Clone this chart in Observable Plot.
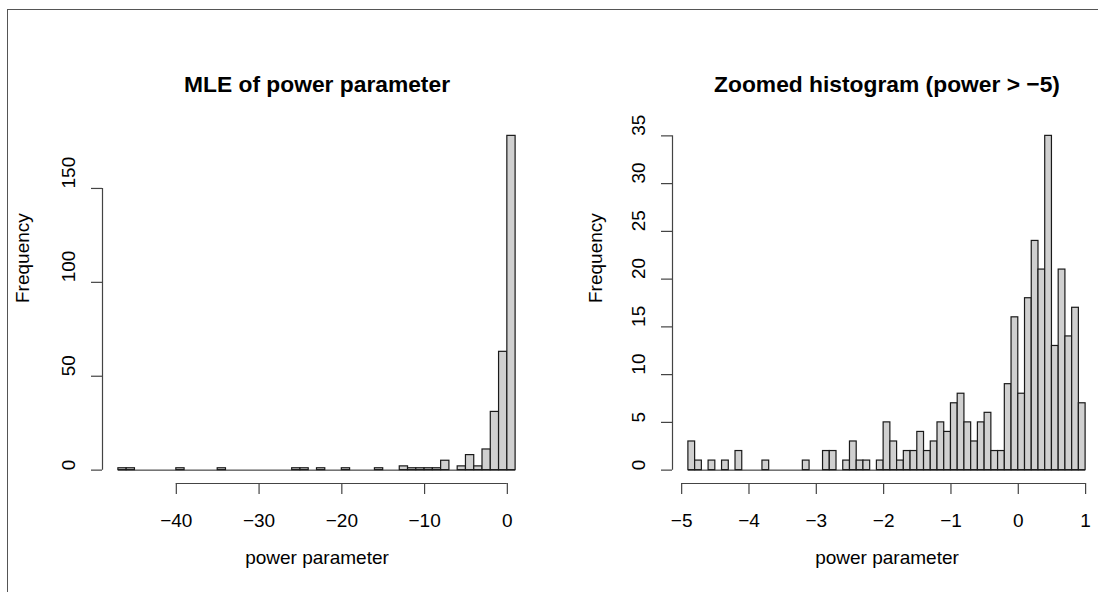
<!DOCTYPE html>
<html><head><meta charset="utf-8">
<script src="https://cdn.jsdelivr.net/npm/d3@7"></script>
<script src="https://cdn.jsdelivr.net/npm/@observablehq/plot@0.6"></script>
<style>
html,body{margin:0;padding:0;background:#fff;overflow:hidden;}
#wrap{position:relative;width:1098px;height:592px;overflow:hidden;background:#fff;}
#frame{position:absolute;left:7px;top:9px;width:2000px;height:2000px;border-left:1.5px solid #555;border-top:1.5px solid #555;pointer-events:none;}
.panel{position:absolute;top:0;width:570px;height:592px;}
.panel svg{max-width:none !important;display:block;}
</style></head><body>
<div id="wrap"><div id="p1" class="panel" style="left:0px"></div><div id="p2" class="panel" style="left:570px"></div><div id="frame"></div></div>
<script>
// Left histogram: bins of width 1 starting at -47
const leftStart = -47;
const leftBinWidth = 1;
const leftCounts = [1,1,0,0,0,0,0,1,0,0, 0,0,1,0,0,0,0,0,0,0, 0,1,1,0,1,0,0,1,0,0, 0,1,0,0,2,1,1,1,1,5, 0,2,8,2,11,31,63,178];
const leftXTicks = [-40,-30,-20,-10,0];
const leftYTicks = [0,50,100,150];

// Right histogram: bins of width 0.1 starting at -4.9
const rightStart = -4.9;
const rightBinWidth = 0.1;
const rightCounts = [3,1,0,1,0,1,0,2,0,0, 0,1,0,0,0,0,0,1,0,0, 2,2,0,1,3,1,1,0,1,5, 3,1,2,2,4,2,3,5,4,7, 8,5,3,5,6,2,2,9,16,8, 18,24,21,35,13,21,14,17,7];
const rightXTicks = [-5,-4,-3,-2,-1,0,1];
const rightYTicks = [0,5,10,15,20,25,30,35];

const titles = ["MLE of power parameter", "Zoomed histogram (power > \u22125)"];
const xLabel = "power parameter";
const yLabel = "Frequency";

function panel(counts, start, bw, xTicks, yTicks, title, yLabDx) {
  const bins = counts.map((c, i) => ({x1: start + i * bw, x2: start + (i + 1) * bw, c}));
  const xmin = start, xmax = start + counts.length * bw;
  const xpad = 0.04 * (xmax - xmin);
  const ymax = d3.max(counts);
  const ypad = 0.04 * ymax;
  const fmt = d => (d < 0 ? "\u2212" + Math.abs(d) : String(d));
  return Plot.plot({
    width: 570, height: 592,
    marginLeft: 102, marginRight: 39, marginTop: 122, marginBottom: 109,
    x: {domain: [xmin - xpad, xmax + xpad]},
    y: {domain: [-ypad, ymax + ypad]},
    style: {fontFamily: "'Liberation Sans', Arial, Helvetica, sans-serif", fontSize: "19px", background: "transparent", color: "#000", maxWidth: "none"},
    marks: [
      Plot.ruleY([0], {x1: xmin, x2: xmax, stroke: "#222", strokeWidth: 1}),
      Plot.rectY(bins.filter(d => d.c > 0), {x1: "x1", x2: "x2", y1: 0, y2: "c", fill: "#d0d0d0", stroke: "#1a1a1a", strokeWidth: 1.2}),
      // x axis
      Plot.ruleY([-ypad], {x1: xTicks[0], x2: xTicks[xTicks.length - 1], stroke: "#444", strokeWidth: 1.2}),
      Plot.axisX(xTicks, {label: null, tickSize: 11, tickPadding: 19, fontSize: 19, stroke: "#444", strokeWidth: 1.2, tickFormat: fmt}),
      // y axis
      Plot.ruleX([xmin - xpad], {y1: yTicks[0], y2: yTicks[yTicks.length - 1], stroke: "#444", strokeWidth: 1.2}),
      Plot.axisY(yTicks, {label: null, tickSize: 11, stroke: "#444", strokeWidth: 1.2, tickFormat: () => ""}),
      Plot.text(yTicks, {y: d => d, text: d => String(d), frameAnchor: "left", dx: -34, rotate: -90, fontSize: 19, fill: "#000"}),
      // labels
      Plot.text([title], {text: d => d, frameAnchor: "top", dy: -47, fontWeight: "bold", fontSize: 22.8, fill: "#000"}),
      Plot.text([xLabel], {text: d => d, frameAnchor: "bottom", dy: 80, fontSize: 19, fill: "#000"}),
      Plot.text([yLabel], {text: d => d, frameAnchor: "left", dx: yLabDx, rotate: -90, fontSize: 19, fill: "#000"})
    ]
  });
}

document.getElementById("p1").appendChild(panel(leftCounts, leftStart, leftBinWidth, leftXTicks, leftYTicks, titles[0], -80));
document.getElementById("p2").appendChild(panel(rightCounts, rightStart, rightBinWidth, rightXTicks, rightYTicks, titles[1], -77));
</script>
</body></html>
